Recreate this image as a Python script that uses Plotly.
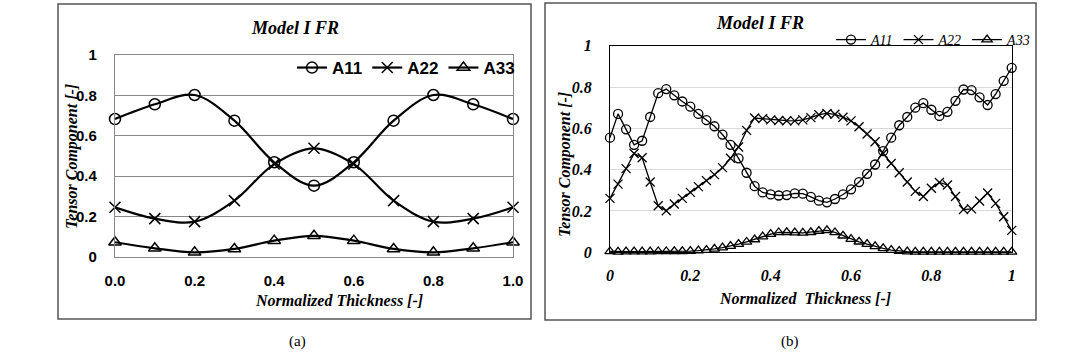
import plotly.graph_objects as go

# ---------------- data: panel (a) ----------------
x_a = [0.0, 0.1, 0.2, 0.3, 0.4, 0.5, 0.6, 0.7, 0.8, 0.9, 1.0]
a11_a = [0.683, 0.756, 0.802, 0.675, 0.469, 0.353, 0.469, 0.675, 0.802, 0.756, 0.683]
a22_a = [0.246, 0.190, 0.175, 0.279, 0.460, 0.538, 0.460, 0.279, 0.175, 0.190, 0.246]
a33_a = [0.073, 0.043, 0.023, 0.040, 0.081, 0.105, 0.081, 0.040, 0.023, 0.043, 0.073]

# ---------------- data: panel (b) ----------------
x_b = [0.00, 0.02, 0.04, 0.06, 0.08, 0.10, 0.12, 0.14, 0.16, 0.18,
       0.20, 0.22, 0.24, 0.26, 0.28, 0.30, 0.32, 0.34, 0.36, 0.38,
       0.40, 0.42, 0.44, 0.46, 0.48, 0.50, 0.52, 0.54, 0.56, 0.58,
       0.60, 0.62, 0.64, 0.66, 0.68, 0.70, 0.72, 0.74, 0.76, 0.78,
       0.80, 0.82, 0.84, 0.86, 0.88, 0.90, 0.92, 0.94, 0.96, 0.98, 1.00]
a11_b = [0.555, 0.670, 0.595, 0.520, 0.540, 0.655, 0.770, 0.790, 0.760, 0.730,
         0.705, 0.670, 0.640, 0.610, 0.570, 0.520, 0.455, 0.385, 0.320, 0.290,
         0.280, 0.275, 0.277, 0.285, 0.284, 0.268, 0.250, 0.242, 0.258, 0.280,
         0.305, 0.340, 0.380, 0.425, 0.490, 0.555, 0.615, 0.655, 0.700, 0.722,
         0.690, 0.660, 0.680, 0.733, 0.788, 0.785, 0.750, 0.713, 0.766, 0.830, 0.893]
a22_b = [0.261, 0.330, 0.405, 0.478, 0.458, 0.340, 0.225, 0.201, 0.234, 0.261,
         0.290, 0.318, 0.347, 0.376, 0.410, 0.455, 0.510, 0.590, 0.650, 0.647,
         0.641, 0.638, 0.637, 0.636, 0.641, 0.652, 0.666, 0.672, 0.668, 0.654,
         0.636, 0.608, 0.573, 0.535, 0.478, 0.430, 0.385, 0.340, 0.295, 0.270,
         0.310, 0.338, 0.326, 0.270, 0.207, 0.210, 0.248, 0.287, 0.237, 0.172, 0.106]
a33_b = [0.004, 0.002, 0.003, 0.003, 0.003, 0.003, 0.004, 0.004, 0.005, 0.005,
         0.006, 0.008, 0.011, 0.017, 0.023, 0.030, 0.040, 0.050, 0.062, 0.076,
         0.088, 0.096, 0.097, 0.095, 0.094, 0.097, 0.103, 0.106, 0.096, 0.080,
         0.064, 0.051, 0.040, 0.029, 0.019, 0.011, 0.006, 0.003, 0.002, 0.002,
         0.002, 0.002, 0.002, 0.002, 0.002, 0.002, 0.002, 0.002, 0.002, 0.002, 0.002]

series_names = ["A11", "A22", "A33"]
y_ticks = [0, 0.2, 0.4, 0.6, 0.8, 1.0]
y_ticktext = ["0", "0.2", "0.4", "0.6", "0.8", "1"]
x_ticktext_a = ["0.0", "0.2", "0.4", "0.6", "0.8", "1.0"]
x_ticktext_b = ["0", "0.2", "0.4", "0.6", "0.8", "1"]

W, H = 1080, 362


def px(x):
    return x / W


def py(y):
    return 1 - y / H


symbols = {"A11": "circle-open", "A22": "x-thin-open", "A33": "triangle-up-open"}

SANS_B = dict(family="Liberation Sans", color="black", weight="bold")
SERIF_BI = dict(family="Liberation Serif", color="black", weight="bold", style="italic")
SERIF_I = dict(family="Liberation Serif", color="black", style="italic")

fig = go.Figure()

for name, vals in zip(series_names, [a11_a, a22_a, a33_a]):
    fig.add_trace(go.Scatter(
        x=x_a, y=vals, mode="lines+markers", name=name,
        line=dict(color="black", width=2.2, shape="spline", smoothing=1.0),
        marker=dict(symbol=symbols[name], size=11, color="black",
                    line=dict(width=1.5, color="black")),
        xaxis="x", yaxis="y", legend="legend", cliponaxis=False))

for name, vals in zip(series_names, [a11_b, a22_b, a33_b]):
    fig.add_trace(go.Scatter(
        x=x_b, y=vals, mode="lines+markers", name=name,
        line=dict(color="black", width=1.3),
        marker=dict(symbol=symbols[name], size=9, color="black",
                    line=dict(width=1.3, color="black")),
        xaxis="x2", yaxis="y2", legend="legend2", cliponaxis=False))

common_axis = dict(automargin=False, zeroline=False, showline=True, mirror=True, ticks="")

fig.update_layout(
    width=W, height=H, autosize=False,
    margin=dict(l=0, r=0, t=0, b=0, pad=0, autoexpand=False),
    paper_bgcolor="white", plot_bgcolor="white",
    xaxis=dict(domain=[px(115), px(513)], range=[0, 1], anchor="y",
               tickvals=y_ticks, ticktext=x_ticktext_a, showgrid=False,
               linecolor="#868686", linewidth=1.2,
               tickfont=dict(size=15, **SANS_B), ticklabelstandoff=10, **common_axis),
    yaxis=dict(domain=[py(257), py(55)], range=[0, 1], anchor="x",
               tickvals=y_ticks, ticktext=y_ticktext, showgrid=True,
               gridcolor="#868686", gridwidth=1.2,
               linecolor="#868686", linewidth=1.2,
               tickfont=dict(size=15, **SANS_B), ticklabelstandoff=14, **common_axis),
    xaxis2=dict(domain=[px(610), px(1011.7)], range=[0, 1], anchor="y2",
                tickvals=y_ticks, ticktext=x_ticktext_b, showgrid=False,
                linecolor="black", linewidth=1.3,
                tickfont=dict(size=16, **SERIF_BI), ticklabelstandoff=8, **common_axis),
    yaxis2=dict(domain=[py(252.3), py(45.7)], range=[0, 1], anchor="x2",
                tickvals=y_ticks, ticktext=y_ticktext, showgrid=True,
                gridcolor="#d9d9d9", gridwidth=1,
                linecolor="black", linewidth=1.3,
                tickfont=dict(size=16, **SERIF_BI), ticklabelstandoff=14, **common_axis),
    legend=dict(x=px(520), xanchor="right", y=py(68), yanchor="middle",
                orientation="h", bgcolor="rgba(0,0,0,0)", itemwidth=30,
                font=dict(size=17, **SANS_B), traceorder="normal"),
    legend2=dict(x=px(1036), xanchor="right", y=py(40), yanchor="middle",
                 orientation="h", bgcolor="rgba(0,0,0,0)", itemwidth=30,
                 font=dict(size=14, **SERIF_I), traceorder="normal"),
    showlegend=True,
)

# outer frames of the two panels
fig.add_shape(type="rect", xref="paper", yref="paper",
              x0=px(58), x1=px(531), y0=py(319), y1=py(4),
              line=dict(color="#555555", width=1.5))
fig.add_shape(type="rect", xref="paper", yref="paper",
              x0=px(545), x1=px(1036), y0=py(320), y1=py(3),
              line=dict(color="#555555", width=1.5))

annotations = [
    # panel (a)
    dict(text="Model I FR", x=px(295), y=py(28), font=dict(size=18, **SERIF_BI)),
    dict(text="Normalized Thickness [-]", x=px(339), y=py(300), font=dict(size=16, **SERIF_BI)),
    dict(text="Tensor Component [-]", x=px(72), y=py(157), textangle=-90, font=dict(size=16, **SERIF_BI)),
    dict(text="(a)", x=px(297), y=py(341), font=dict(size=15, family="Liberation Serif", color="black")),
    # panel (b)
    dict(text="Model I FR", x=px(760), y=py(23), font=dict(size=18, **SERIF_BI)),
    dict(text="Normalized&nbsp; Thickness [-]", x=px(805), y=py(298), font=dict(size=16, **SERIF_BI)),
    dict(text="Tensor Component [-]", x=px(565), y=py(165), textangle=-90, font=dict(size=16, **SERIF_BI)),
    dict(text="(b)", x=px(790), y=py(341), font=dict(size=15, family="Liberation Serif", color="black")),
]
for a in annotations:
    fig.add_annotation(xref="paper", yref="paper", showarrow=False,
                       xanchor="center", yanchor="middle", **a)

fig.write_html("out.html",
               config={"displayModeBar": False},
               post_script="document.body.style.margin='0';document.body.style.padding='0';")
